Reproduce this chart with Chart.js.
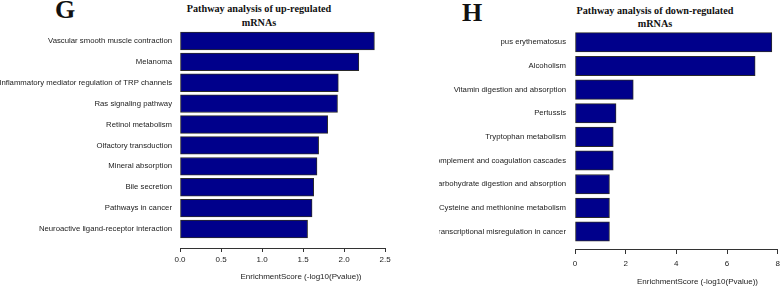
<!DOCTYPE html>
<html><head><meta charset="utf-8">
<script src="https://cdn.jsdelivr.net/npm/chart.js@4.4.1/dist/chart.umd.min.js"></script>
<style>
html,body{margin:0;padding:0;background:#fff;}
body{width:783px;height:288px;overflow:hidden;position:relative;}
canvas{position:absolute;top:0;}
.t{position:absolute;font-family:"Liberation Serif","Times New Roman",serif;font-weight:bold;color:#111;text-align:center;white-space:nowrap;}
.ttl{font-size:10.2px;line-height:13.5px;width:300px;}
.big{font-size:26px;line-height:26px;}
</style></head><body>
<div class="t big" style="left:55px;top:-3px;">G</div>
<div class="t big" style="left:462px;top:0px;">H</div>
<div class="t ttl" style="left:109px;top:2px;">Pathway analysis of up-regulated<br>mRNAs</div>
<div class="t ttl" style="left:505px;top:3.5px;">Pathway analysis of down-regulated<br>mRNAs</div>
<canvas id="c1" width="422" height="288" style="left:0px;width:422px;height:288px;"></canvas>
<canvas id="c2" width="381" height="288" style="left:439px;width:381px;height:288px;"></canvas>
<script>
const upCategories = ["Vascular smooth muscle contraction","Melanoma","Inflammatory mediator regulation of TRP channels","Ras signaling pathway","Retinol metabolism","Olfactory transduction","Mineral absorption","Bile secretion","Pathways in cancer","Neuroactive ligand-receptor interaction"];
const upValues = [2.37,2.18,1.93,1.92,1.80,1.69,1.67,1.63,1.61,1.555];
const upTicks = [0,0.5,1,1.5,2,2.5];

const downCategories = ["pus erythematosus","Alcoholism","Vitamin digestion and absorption","Pertussis","Tryptophan metabolism","Complement and coagulation cascades","Carbohydrate digestion and absorption","Cysteine and methionine metabolism","Transcriptional misregulation in cancer"];
const downValues = [7.77,7.11,2.30,1.62,1.51,1.51,1.36,1.36,1.36];
const downTicks = [0,2,4,6,8];

const axisTitle = "EnrichmentScore (-log10(Pvalue))";

const axisLine = {
  id:'axisLine',
  afterDraw(chart, args, o){
    const xs = chart.scales.x, ctx = chart.ctx, y = Math.round(chart.chartArea.bottom)+0.5;
    ctx.save(); ctx.strokeStyle='#333'; ctx.lineWidth=1;
    ctx.beginPath();
    ctx.moveTo(xs.getPixelForValue(o.from), y);
    ctx.lineTo(xs.getPixelForValue(o.to), y);
    ctx.stroke(); ctx.restore();
  }
};

function makeChart(id, cats, vals, ticks, cfg){
  const tickMax = ticks[ticks.length-1];
  return new Chart(document.getElementById(id), {
    type:'bar',
    data:{datasets:[{
      data: cats.map((c,i)=>({x: vals[i], y: i})),
      backgroundColor:'#00008B',
      borderColor:'#2a2a2a',
      borderWidth:1,
      borderSkipped:false,
      barThickness: cfg.bar
    }]},
    options:{
      indexAxis:'y',
      responsive:false,
      animation:false,
      layout:{padding:{top:30,left:0,right:0,bottom:0}},
      plugins:{legend:{display:false},tooltip:{enabled:false},axisLine:{from:0,to:tickMax}},
      scales:{
        y:{
          type:'linear', reverse:true, offset:false, min:cfg.ymin, max:cfg.ymax,
          afterBuildTicks: s => { s.ticks = cats.map((c,i)=>({value:i})); },
          afterFit: s => { s.width = cfg.yw; },
          grid:{display:false, drawTicks:false, offset:false}, border:{display:false},
          ticks:{autoSkip:false, padding:cfg.lp, color:'#222',
            font:{family:'"Liberation Sans", Arial, sans-serif', size:7.75},
            callback: v => cats[v]}
        },
        x:{
          type:'linear', min:0, max:cfg.xmax, offset:false,
          afterBuildTicks: s => { s.ticks = ticks.map(v=>({value:v})); },
          afterFit: s => { s.height = cfg.xh; },
          border:{display:false},
          grid:{display:true, drawOnChartArea:false, drawTicks:true, tickLength:cfg.tl, color:'#333', lineWidth:1},
          ticks:{autoSkip:false, maxRotation:0, padding:cfg.tp, color:'#222',
            font:{family:'"Liberation Sans", Arial, sans-serif', size:8},
            callback: v => cfg.fmt(v)},
          title:{display:true, text:axisTitle, color:'#222',
            font:{family:'"Liberation Sans", Arial, sans-serif', size:8},
            padding:{top:0,bottom:cfg.tpb}}
        }
      }
    },
    plugins:[axisLine]
  });
}

makeChart('c1', upCategories, upValues, upTicks, {
  bar:17.7, ymin:-0.526, ymax:9.909, yw:180, lp:8, xmax:2.95, xh:40, tl:4, tp:3, tpb:6,
  fmt: v => v.toFixed(1)
});
makeChart('c2', downCategories, downValues, downTicks, {
  bar:19.4, ymin:-0.52, ymax:8.74, yw:136, lp:9, xmax:9.67, xh:39, tl:5, tp:4.5, tpb:1.5,
  fmt: v => String(v)
});
</script>
</body></html>
